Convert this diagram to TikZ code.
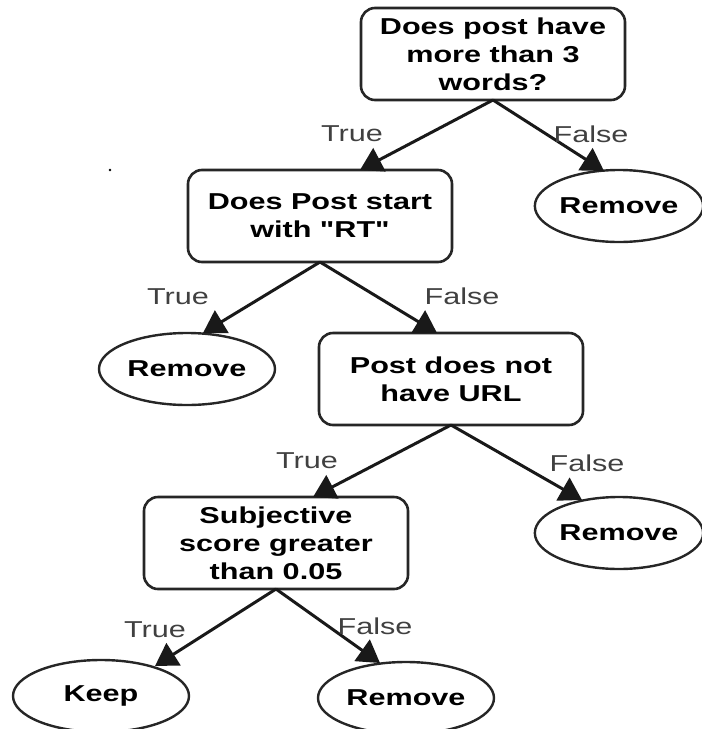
\documentclass[tikz,border=0pt]{standalone}
\usepackage{fontspec}
\setmainfont[FakeStretch=1.33,Ligatures=TeXOff]{Liberation Sans}
\usetikzlibrary{positioning}
\usetikzlibrary{calc}
\usetikzlibrary{shapes.geometric}
\usetikzlibrary{arrows.meta}

\begin{document}
\begin{tikzpicture}[x=1pt,y=-1pt,
	box/.style={draw=black!85,line width=2.6pt,rounded corners=14pt,minimum width=264pt,minimum height=92pt,inner sep=0pt,outer sep=0pt,align=center,font=\fontsize{23}{28}\selectfont\bfseries},
	leaf/.style={draw=black!85,line width=2.4pt,ellipse,minimum width=176pt,minimum height=72pt,inner sep=0pt,outer sep=0pt,font=\fontsize{23}{28}\selectfont\bfseries},
	arc/.style={draw=black!90,line width=3pt,-{Triangle[length=22pt,width=26pt]}},
	lbl/.style={above=27pt,inner sep=0pt,text=black!75,font=\fontsize{23}{28}\selectfont}]
	\useasboundingbox (0,0) rectangle (702,729);
	\node[box] (words) at (493,54) {Does post have\\more than 3\\words?};
	\node[box, below=70pt of words, xshift=-173pt] (rt) {Does Post start\\with "RT"};
	\node[leaf, minimum width=164pt, below=70pt of words, xshift=126pt] (rmWords) {Remove};
	\node[leaf, below=71pt of rt, xshift=-133pt] (rmRt) {Remove};
	\node[box, below=71pt of rt, xshift=131pt] (url) {Post does not\\have URL};
	\node[box, below=72pt of url, xshift=-175pt] (subj) {Subjective\\score greater\\than 0.05};
	\node[leaf, minimum width=164pt, below=72pt of url, xshift=168pt] (rmUrl) {Remove};
	\node[leaf, below=71pt of subj, xshift=-175pt] (keep) {Keep};
	\node[leaf, below=73pt of subj, xshift=130pt] (rmSubj) {Remove};
	\fill (110,170) circle (1.3pt);
	\draw[arc] (words.south) -- ($(rt.north)+(40,0)$)		node[lbl, xshift=-8pt]{True};
	\draw[arc] (words.south) -- ($(rmWords.north)+(-15,1)$)	node[lbl, xshift=-13pt]{False};
	\draw[arc] (rt.south) -- ($(rmRt.north)+(16,0)$)		node[lbl, xshift=-25pt]{True};
	\draw[arc] (rt.south) -- ($(url.north)+(-14,0)$)		node[lbl, xshift=25pt]{False};
	\draw[arc] (url.south) -- ($(subj.north)+(37,0)$)		node[lbl, xshift=-6pt]{True};
	\draw[arc] (url.south) -- ($(rmUrl.north)+(-37,3)$)		node[lbl, xshift=5pt]{False};
	\draw[arc] (subj.south) -- ($(keep.north)+(54,6)$)		node[lbl, xshift=0pt]{True};
	\draw[arc] (subj.south) -- ($(rmSubj.north)+(-26,1)$)	node[lbl, xshift=-5pt]{False};
\end{tikzpicture}
\end{document}
